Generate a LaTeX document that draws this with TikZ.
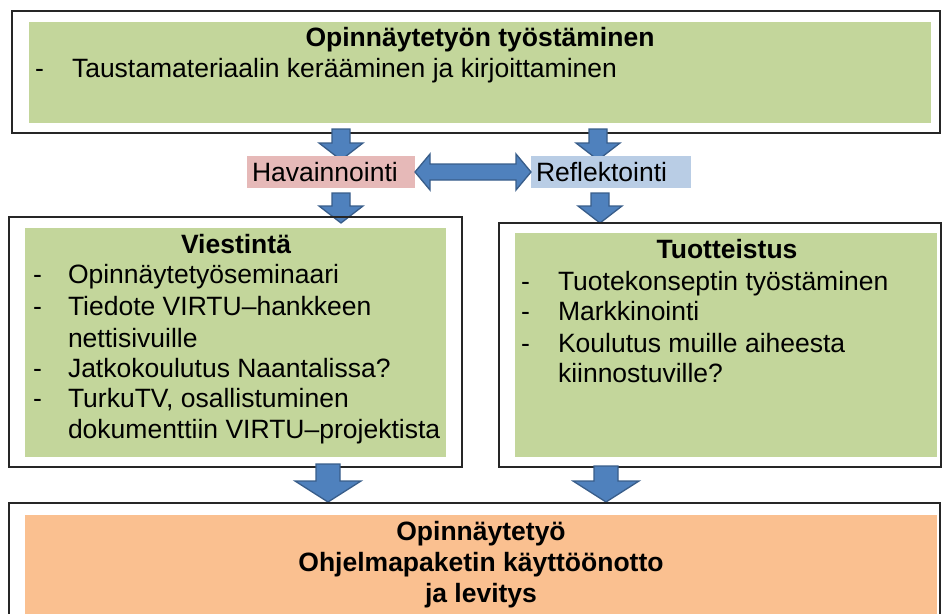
\documentclass[tikz,border=0pt]{standalone}
\usepackage{fontspec}
\setmainfont{Liberation Sans}
\usetikzlibrary{calc}
\definecolor{boxgreen}{HTML}{C3D69B}
\definecolor{boxpink}{HTML}{E6B9B8}
\definecolor{boxblue}{HTML}{B9CDE5}
\definecolor{boxorange}{HTML}{FAC090}
\definecolor{arrowblue}{HTML}{4F81BD}
\definecolor{arrowedge}{HTML}{385D8A}
\newcommand\fs{\fontsize{26.5}{31}\selectfont}
\newcommand\dnarrow[6]{\draw[barrow] (#1-#4,#2) -- (#1+#4,#2) -- (#1+#4,#3-#6) -- (#1+#5,#3-#6) -- (#1,#3) -- (#1-#5,#3-#6) -- (#1-#4,#3-#6) -- cycle;}
\begin{document}
\begin{tikzpicture}[x=1pt,y=-1pt,
  outer/.style={draw=black!85,line width=1.3pt,inner sep=0pt,outer sep=0pt,anchor=north west},
  panel/.style={inner sep=0pt,outer sep=0pt,anchor=north west},
  txt/.style={inner sep=0pt,outer sep=0pt,font=\fs,anchor=base west},
  ttl/.style={txt,font=\fs\bfseries,anchor=base},
  barrow/.style={fill=arrowblue,draw=arrowedge,line width=1.3pt,line join=miter}]
\useasboundingbox (0,0) rectangle (942,613);

% top box
\node[outer,minimum width=928pt,minimum height=122pt] (topouter) at (12,11) {};
\node[panel,fill=boxgreen,minimum width=902pt,minimum height=101pt] (topgreen) at (29,22) {};
\node[ttl] (toptitle) at (480,46) {Opinnäytetyön työstäminen};
\node[txt] (td1) at (35,77) {-};
\node[txt] (tt1) at (72,77) {Taustamateriaalin kerääminen ja kirjoittaminen};

% top arrows
\dnarrow{341}{129}{160}{9}{22}{17}
\dnarrow{598}{129}{160}{9}{22}{17}

% middle labels
\node[panel,fill=boxpink,minimum width=168pt,minimum height=32pt] (hav) at (247,156) {};
\node[txt] (havtxt) at (252,181) {Havainnointi};
\node[panel,fill=boxblue,minimum width=160pt,minimum height=32pt] (ref) at (531,156) {};
\node[txt] (reftxt) at (536,181) {Reflektointi};

% double arrow between
\draw[barrow] (hav.east) -- ++(15,-18) -- ++(0,10) -- ($(ref.west)+(-15,-8)$) -- ++(0,-10) -- (ref.west) -- ++(-15,18) -- ++(0,-10) -- ($(hav.east)+(15,8)$) -- ++(0,10) -- cycle;

% arrows below labels
\dnarrow{341}{193}{223}{9}{22}{17}
\dnarrow{600}{193}{223}{9}{22}{17}

% left box
\node[outer,minimum width=453pt,minimum height=250pt] (leftouter) at (9,217) {};
\node[panel,fill=boxgreen,minimum width=421pt,minimum height=229pt] (leftgreen) at (25,228) {};
\node[ttl] (lefttitle) at (236,253) {Viestintä};
\node[txt] (ld1) at (33,283) {-};
\node[txt] (lt1) at (68,283) {Opinnäytetyöseminaari};
\node[txt] (ld2) at (33,315) {-};
\node[txt] (lt2) at (68,315) {Tiedote VIRTU–hankkeen};
\node[txt] (lt2b) at (68,347) {nettisivuille};
\node[txt] (ld3) at (33,377) {-};
\node[txt] (lt3) at (68,377) {Jatkokoulutus Naantalissa?};
\node[txt] (ld4) at (33,407) {-};
\node[txt] (lt4) at (68,407) {TurkuTV, osallistuminen};
\node[txt] (lt4b) at (68,438) {dokumenttiin VIRTU–projektista};

% right box
\node[outer,minimum width=442pt,minimum height=244pt] (rightouter) at (499,223) {};
\node[panel,fill=boxgreen,minimum width=422pt,minimum height=224pt] (rightgreen) at (515,233) {};
\node[ttl] (righttitle) at (727,258) {Tuotteistus};
\node[txt] (rd1) at (521,290) {-};
\node[txt] (rt1) at (558,290) {Tuotekonseptin työstäminen};
\node[txt] (rd2) at (521,320) {-};
\node[txt] (rt2) at (558,320) {Markkinointi};
\node[txt] (rd3) at (521,352) {-};
\node[txt] (rt3) at (558,352) {Koulutus muille aiheesta};
\node[txt] (rt3b) at (558,382) {kiinnostuville?};

% bottom arrows
\dnarrow{328}{464}{502}{12}{33}{21}
\dnarrow{606}{466}{502}{12}{33}{21}

% bottom box
\node[outer,minimum width=931pt,minimum height=115pt] (botouter) at (9,503) {};
\node[panel,fill=boxorange,minimum width=912pt,minimum height=100pt] (botorange) at (25,515) {};
\node[ttl] (bot1) at (481,540) {Opinnäytetyö};
\node[ttl] (bot2) at (481,571) {Ohjelmapaketin käyttöönotto};
\node[ttl] (bot3) at (481,602) {ja levitys};
\end{tikzpicture}
\end{document}
